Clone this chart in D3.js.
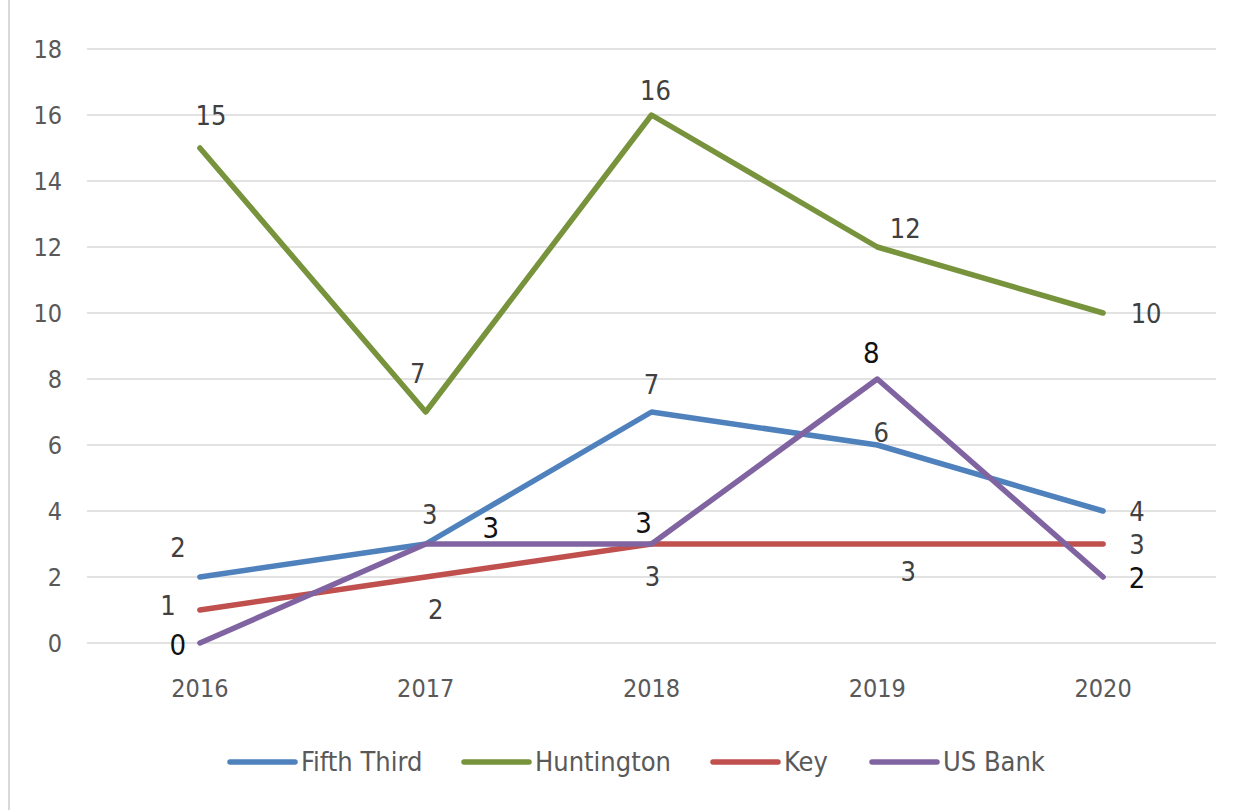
<!DOCTYPE html>
<html>
<head>
<meta charset="utf-8">
<script src="https://cdn.jsdelivr.net/npm/d3@7"></script>
<style>
  body { margin: 0; background: #fff; }
  text { font-family: "Liberation Sans Narrow", "DejaVu Sans Condensed", "Arial Narrow", sans-serif; }
</style>
</head>
<body>
<div id="chart"></div>
<script>
const years = ["2016", "2017", "2018", "2019", "2020"];
const seriesNames = ["Fifth Third", "Huntington", "Key", "US Bank"];
const fifthThird = [2, 3, 7, 6, 4];
const huntington = [15, 7, 16, 12, 10];
const key = [1, 2, 3, 3, 3];
const usBank = [0, 3, 3, 8, 2];
const yTicks = [0, 2, 4, 6, 8, 10, 12, 14, 16, 18];

const colors = ["#4F81BD", "#77933C", "#C0504D", "#8064A2"];
// label offsets (dx, dy) from each point, per series
const labelOffsets = [
    [[-22, -29], [4, -29], [0, -27], [4, -12], [34, 1]],
    [[11, -32], [-8, -38], [4, -24], [28, -18], [43, 1]],
    [[-32, -4], [10, 33], [1, 33], [31, 28], [34, 1]],
    [[-22, 2], [65, -16], [-8, -21], [-6, -26], [34, 1]]
];
const labelDark = [false, false, false, true];

const width = 1236, height = 810;
const margin = { left: 87, right: 20, top: 49, bottom: 167 };

const svg = d3.select("#chart")
    .append("svg")
    .attr("width", width)
    .attr("height", height);

// chart frame edge
svg.append("line")
    .attr("x1", 9).attr("x2", 9)
    .attr("y1", 0).attr("y2", height)
    .attr("stroke", "#d9d9d9")
    .attr("stroke-width", 2);

const x = d3.scaleBand().domain(years).range([margin.left, width - margin.right]);
const y = d3.scaleLinear().domain([0, 18]).range([height - margin.bottom, margin.top]);

// gridlines
svg.append("g")
    .selectAll("line")
    .data(yTicks)
    .enter().append("line")
    .attr("x1", margin.left)
    .attr("x2", width - margin.right)
    .attr("y1", d => y(d))
    .attr("y2", d => y(d))
    .attr("stroke", "#d9d9d9")
    .attr("stroke-width", 1.5);

// y axis labels
const yAxis = svg.append("g")
    .attr("transform", "translate(" + (margin.left - 25) + ",0)")
    .call(d3.axisLeft(y).tickValues(yTicks).tickSize(0).tickPadding(0));
yAxis.select(".domain").remove();
yAxis.selectAll("text")
    .attr("fill", "#595959")
    .style("font-size", "25px");

// x axis labels
const xAxis = svg.append("g")
    .attr("transform", "translate(0," + (y(0) + 45) + ")")
    .call(d3.axisBottom(x).tickSize(0).tickPadding(0));
xAxis.select(".domain").remove();
xAxis.selectAll("text")
    .attr("fill", "#595959")
    .attr("dy", "0.35em")
    .style("font-size", "25px");

const allSeries = [fifthThird, huntington, key, usBank];
const cx = d => x(d) + x.bandwidth() / 2;

const line = d3.line()
    .x((d, i) => cx(years[i]))
    .y(d => y(d));

svg.append("g")
    .selectAll("path")
    .data(allSeries)
    .enter().append("path")
    .attr("d", d => line(d))
    .attr("fill", "none")
    .attr("stroke", (d, i) => colors[i])
    .attr("stroke-width", 5.5)
    .attr("stroke-linejoin", "round")
    .attr("stroke-linecap", "round");

// data labels
allSeries.forEach(function (values, s) {
    svg.append("g")
        .selectAll("text")
        .data(values)
        .enter().append("text")
        .attr("x", (d, i) => cx(years[i]) + labelOffsets[s][i][0])
        .attr("y", (d, i) => y(d) + labelOffsets[s][i][1])
        .attr("text-anchor", "middle")
        .attr("dy", "0.35em")
        .attr("fill", labelDark[s] ? "#111" : "#404040")
        .style("font-size", labelDark[s] ? "29px" : "27px")
        .text(d => d);
});

// legend
const legendX = [230, 464, 713, 872];
const legend = svg.append("g")
    .selectAll("g")
    .data(seriesNames)
    .enter().append("g")
    .attr("transform", (d, i) => "translate(" + legendX[i] + ",762)");

legend.append("line")
    .attr("x1", 0).attr("x2", 65)
    .attr("stroke", (d, i) => colors[i])
    .attr("stroke-width", 5.5)
    .attr("stroke-linecap", "round");

legend.append("text")
    .attr("x", 71)
    .attr("dy", "0.35em")
    .attr("fill", "#595959")
    .style("font-size", "27px")
    .text(d => d);
</script>
</body>
</html>
